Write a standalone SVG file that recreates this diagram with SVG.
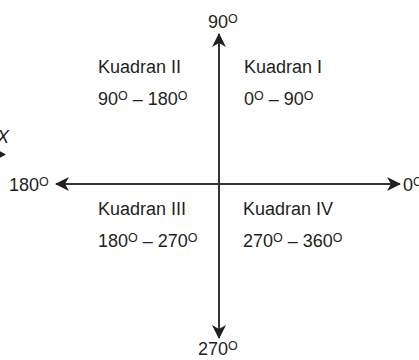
<svg xmlns="http://www.w3.org/2000/svg" width="419" height="360" viewBox="0 0 419 360">
<style>
text{font-family:"Liberation Sans",Arial,sans-serif;font-size:18px;fill:#231f20}
.s{font-size:12.5px}
.ax{stroke:#333;stroke-width:2;fill:none}
.ah{fill:#231f20}
</style>
<defs>
<marker id="arr" viewBox="0 0 14 14" refX="13" refY="7" markerWidth="14" markerHeight="14" markerUnits="userSpaceOnUse" orient="auto">
<path class="ah" d="M0,0 L14,7 L0,14 L4,7 Z"/>
</marker>
</defs>
<rect width="419" height="360" fill="#fff"/>
<g id="connectors">
<line class="ax" x1="219" y1="184" x2="219" y2="34" marker-end="url(#arr)"/>
<line class="ax" x1="219" y1="184" x2="219" y2="338" marker-end="url(#arr)"/>
<line class="ax" x1="219" y1="184" x2="56" y2="184" marker-end="url(#arr)"/>
<line class="ax" x1="219" y1="184" x2="400" y2="184" marker-end="url(#arr)"/>
<path class="ah" d="M-6,148 L6,154.5 L-6,161 L-2,154.5 Z"/>
</g>
<g id="label-x"><text x="-3" y="143" font-style="italic">X</text></g>
<g id="label-90"><text x="208" y="28">90<tspan class="s" dy="-5">O</tspan></text></g>
<g id="label-180"><text x="9" y="191">180<tspan class="s" dy="-5">O</tspan></text></g>
<g id="label-0"><text x="403" y="191">0<tspan class="s" dy="-5">O</tspan></text></g>
<g id="label-270"><text x="198" y="355">270<tspan class="s" dy="-5">O</tspan></text></g>
<g id="q2"><text x="98" y="73">Kuadran II</text><text x="98" y="105">90<tspan class="s" dy="-5">O</tspan><tspan dy="5"> – 180</tspan><tspan class="s" dy="-5">O</tspan></text></g>
<g id="q1"><text x="244" y="73">Kuadran I</text><text x="244" y="105">0<tspan class="s" dy="-5">O</tspan><tspan dy="5"> – 90</tspan><tspan class="s" dy="-5">O</tspan></text></g>
<g id="q3"><text x="98" y="215">Kuadran III</text><text x="98" y="247">180<tspan class="s" dy="-5">O</tspan><tspan dy="5"> – 270</tspan><tspan class="s" dy="-5">O</tspan></text></g>
<g id="q4"><text x="243" y="215">Kuadran IV</text><text x="243" y="247">270<tspan class="s" dy="-5">O</tspan><tspan dy="5"> – 360</tspan><tspan class="s" dy="-5">O</tspan></text></g>
</svg>
